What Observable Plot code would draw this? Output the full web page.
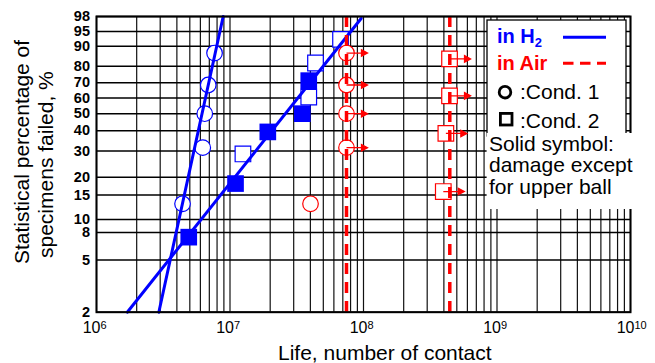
<!DOCTYPE html>
<html><head><meta charset="utf-8">
<script src="https://cdn.jsdelivr.net/npm/d3@7"></script>
<script src="https://cdn.jsdelivr.net/npm/@observablehq/plot@0.6"></script>
<style>
body{margin:0;background:#fff;}
#wrap{position:relative;width:655px;height:363px;overflow:hidden;}
svg{font-family:"Liberation Sans",Arial,sans-serif;}
</style></head><body><div id="wrap"></div>
<script>
// ---- data ----
const yTickPercents = [2,5,8,10,15,20,30,40,50,60,70,80,90,95,98];
const xTickExponents = [6,7,8,9,10];
const h2Cond1Life = [4.41e6, 6.25e6, 6.47e6, 6.87e6, 7.66e6];
const h2Cond1Pct  = [13, 31.5, 50, 68.5, 87];
const h2Cond2Life = [4.91e6, 1.10e7, 1.25e7, 1.92e7, 3.48e7, 3.89e7, 3.89e7, 4.37e7, 6.73e7];
const h2Cond2Pct  = [7.4, 18.1, 28.7, 39.4, 50, 60.6, 71.3, 81.9, 92.6];
const h2Cond2Solid = [true, true, false, true, true, false, true, false, false];
const airCond1Life = [4.01e7, 7.46e7, 7.46e7, 7.46e7, 7.46e7];
const airCond1Pct  = [13, 31.5, 50, 68.5, 87];
const airCond1Suspended = [false, true, true, true, true];
const airCond2Life = [3.96e8, 4.14e8, 4.41e8, 4.41e8];
const airCond2Pct  = [15.9, 38.6, 61.4, 84.1];
const airCond2Suspended = [true, true, true, true];
const h2Fit1Life = [2.93e6, 8.89e6];
const h2Fit1Pct  = [2, 98];
const h2Fit2Life = [1.70e6, 9.6e7];
const h2Fit2Pct  = [2, 97.7];
const airLimitLife = [7.46e7, 4.43e8];

// Weibull probability transform
const weib = p => Math.log(-Math.log(1 - p / 100));

const rows = (life, pct, extra = {}) => life.map((l, i) => {
  const o = {life: l, pct: pct[i]};
  for (const k in extra) o[k] = extra[k][i];
  return o;
});
const h2c1 = rows(h2Cond1Life, h2Cond1Pct);
const h2c2 = rows(h2Cond2Life, h2Cond2Pct, {solid: h2Cond2Solid});
const airc1 = rows(airCond1Life, airCond1Pct, {susp: airCond1Suspended});
const airc2 = rows(airCond2Life, airCond2Pct, {susp: airCond2Suspended});
const fit1 = rows(h2Fit1Life, h2Fit1Pct);
const fit2 = rows(h2Fit2Life, h2Fit2Pct);

const minorX = [];
for (let e = 6; e <= 9; e++) for (let k = 1; k <= 9; k++) minorX.push(k * 10 ** e);
minorX.push(1e10);

const arrowSymbol = {
  draw(ctx) {
    ctx.moveTo(0, 0); ctx.lineTo(15, 0);
    ctx.moveTo(15, -3.2); ctx.lineTo(21, 0); ctx.lineTo(15, 3.2); ctx.closePath();
  }
};

const BLUE = "#0000ff", RED = "#ff0000";
const X = d => d.life, Y = d => weib(d.pct);

const chart = Plot.plot({
  width: 655, height: 363,
  marginLeft: 96, marginRight: 25, marginTop: 16, marginBottom: 51.3,
  x: {type: "log", domain: [1e6, 1e10], axis: null},
  y: {domain: [weib(2), weib(98)], axis: null},
  style: {fontFamily: "Liberation Sans, Arial, sans-serif", background: "white"},
  marks: [
    Plot.ruleX(minorX, {stroke: "#111", strokeWidth: 1.2}),
    Plot.ruleY(yTickPercents, {y: weib, stroke: "#000", strokeWidth: 1.5}),
    Plot.dot(h2c1, {x: X, y: Y, r: 7.8, stroke: BLUE, fill: "white", strokeWidth: 1.2}),
    Plot.dot(h2c2.filter(d => !d.solid), {x: X, y: Y, symbol: "square", r: 8.8, stroke: BLUE, fill: "white", strokeWidth: 1.2}),
    Plot.dot(h2c2.filter(d => d.solid), {x: X, y: Y, symbol: "square", r: 9.4, fill: BLUE, stroke: null}),
    Plot.dot(airc1, {x: X, y: Y, r: 7.8, stroke: RED, fill: "white", strokeWidth: 1.2}),
    Plot.dot(airc2, {x: X, y: Y, symbol: "square", r: 8.8, stroke: RED, fill: "white", strokeWidth: 1.2}),
    Plot.line(fit1, {x: X, y: Y, stroke: BLUE, strokeWidth: 3}),
    Plot.line(fit2, {x: X, y: Y, stroke: BLUE, strokeWidth: 3}),
    Plot.ruleX(airLimitLife, {stroke: RED, strokeWidth: 3.5, strokeDasharray: "11,8"}),
    Plot.dot([...airc1, ...airc2].filter(d => d.susp), {x: X, y: Y, symbol: arrowSymbol, stroke: RED, fill: RED, strokeWidth: 1.3}),
    Plot.frame({stroke: "#000", strokeWidth: 2}),
    Plot.text(yTickPercents, {y: weib, frameAnchor: "left", textAnchor: "end", dx: -6.5, text: d => String(d), fontWeight: "bold", fontSize: 14.5, fill: "#000"}),
    Plot.text(xTickExponents, {x: e => 10 ** e, frameAnchor: "bottom", lineAnchor: "bottom", textAnchor: "end", dx: 4, dy: 20.5, text: () => "10", fontSize: 16, fill: "#000"}),
    Plot.text(xTickExponents, {x: e => 10 ** e, frameAnchor: "bottom", lineAnchor: "bottom", textAnchor: "start", dx: 4, dy: 16.3, text: e => String(e), fontSize: 11, fill: "#000"})
  ]
});
document.getElementById("wrap").appendChild(chart);

// ---- titles and legend ----
const svg = d3.select(chart);
const ff = "Liberation Sans, Arial, sans-serif";
const T = sel => sel.attr("text-anchor", "start").attr("font-family", ff).attr("fill", "#000");
T(svg.append("text")).attr("x", 278).attr("y", 360).attr("font-size", 21)
  .text("Life, number of contact");
T(svg.append("text")).attr("transform", "translate(29.3,264) rotate(-90)").attr("font-size", 21)
  .text("Statistical percentage of");
T(svg.append("text")).attr("transform", "translate(53.3,258) rotate(-90)").attr("font-size", 21)
  .text("specimens failed, %");

const lg = svg.append("g").attr("font-family", ff).attr("text-anchor", "start");
lg.append("rect").attr("x", 487).attr("y", 20).attr("width", 139).attr("height", 116).attr("fill", "white").attr("stroke", "#000").attr("stroke-width", 1.3);
lg.append("rect").attr("x", 486.6).attr("y", 133).attr("width", 148).attr("height", 76).attr("fill", "white");
const h2t = T(lg.append("text")).attr("x", 497).attr("y", 43).attr("font-size", 20).attr("font-weight", "bold").attr("fill", BLUE);
h2t.append("tspan").text("in H");
h2t.append("tspan").attr("font-size", 13).attr("dy", 4).text("2");
lg.append("line").attr("x1", 563).attr("x2", 606).attr("y1", 37.3).attr("y2", 37.3).attr("stroke", BLUE).attr("stroke-width", 3);
T(lg.append("text")).attr("x", 497).attr("y", 70).attr("font-size", 20).attr("font-weight", "bold").attr("fill", RED).text("in Air");
lg.append("line").attr("x1", 563).attr("x2", 606).attr("y1", 63.3).attr("y2", 63.3).attr("stroke", RED).attr("stroke-width", 3).attr("stroke-dasharray", "10.5,6.5");
lg.append("circle").attr("cx", 505).attr("cy", 92.2).attr("r", 5.8).attr("fill", "none").attr("stroke", "#000").attr("stroke-width", 2.8);
T(lg.append("text")).attr("x", 520).attr("y", 99).attr("font-size", 21).text(":Cond. 1");
lg.append("rect").attr("x", 500.4).attr("y", 113.4).attr("width", 11.6).attr("height", 11.6).attr("fill", "none").attr("stroke", "#000").attr("stroke-width", 2.8);
T(lg.append("text")).attr("x", 520).attr("y", 127.7).attr("font-size", 21).text(":Cond. 2");
["Solid symbol:", "damage except", "for upper ball"].forEach((t, i) => {
  T(lg.append("text")).attr("x", 489).attr("y", 150.7 + i * 21.6).attr("font-size", 21).text(t);
});
</script></body></html>
